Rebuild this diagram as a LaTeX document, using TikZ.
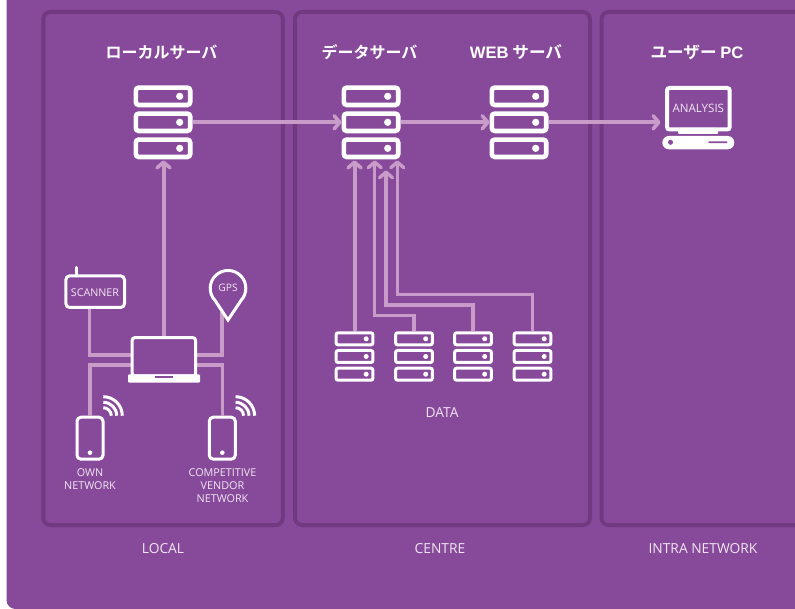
\documentclass[tikz,border=0pt]{standalone}
\usepackage{fontspec}
\setmainfont{Open Sans}
\newfontfamily\jpfont{Noto Sans CJK JP}[BoldFont={Noto Sans CJK JP Bold}]
\newfontfamily\headlat{Liberation Sans}
\usetikzlibrary{arrows.meta,calc}
\definecolor{bgpurple}{HTML}{874A9B}
\definecolor{panelline}{HTML}{713A80}
\definecolor{linkcol}{HTML}{C99BC9}
\definecolor{lbl}{HTML}{F1E6F2}
\tikzset{
  x=1pt,y=-1pt,
  panelbox/.style={draw=panelline,line width=4pt,rounded corners=7pt},
  holder/.style={inner sep=0pt,outer sep=0pt,rectangle},
  iconline/.style={draw=white,line width=3pt,rounded corners=2.5pt},
  link/.style={draw=linkcol,line width=3.5pt},
  mainlink/.style={draw=linkcol,line width=4pt,-{Straight Barb[round,length=5.5pt,width=13pt,line width=3.6pt]}},
  arrowlink/.style={link,-{Straight Barb[round,length=5.5pt,width=13pt,line width=3.4pt]}},
  head/.style={inner sep=0pt,text=white,font=\jpfont\bfseries\fontsize{16}{18}\selectfont},
  headwide/.style={inner sep=0pt,text=white,font=\jpfont\bfseries\fontsize{16.6}{18}\selectfont},
  caption/.style={inner sep=0pt,text=lbl,align=center,font=\fontsize{13.8}{15}\selectfont},
  tiny/.style={inner sep=0pt,text=lbl,align=center,font=\fontsize{10.8}{13}\selectfont},
}
\newcommand\srvbig[3]{%
  \node[holder,minimum width=59pt,minimum height=74pt] (#1) at (#2,#3) {};
  \begin{scope}[shift={(#2,#3)}]
    \foreach \dy in {-26,0,26}{
      \draw[iconline,line width=4.6pt,rounded corners=3pt] (-27.2,\dy-8.7) rectangle (27.2,\dy+8.7);
      \fill[white] (16.7,\dy) circle (3.6);
    }
  \end{scope}}
\newcommand\srvsmall[3]{%
  \node[holder,minimum width=40pt,minimum height=50pt] (#1) at (#2,#3) {};
  \begin{scope}[shift={(#2,#3)}]
    \foreach \dy in {-17.7,0,17.7}{
      \draw[iconline,line width=3pt,rounded corners=2pt] (-18.4,\dy-6) rectangle (18.4,\dy+6);
      \fill[white] (11.7,\dy) circle (2.5);
    }
  \end{scope}}
\newcommand\phoneicon[3]{%
  \node[holder,minimum width=29pt,minimum height=45pt] (#1) at (#2,#3) {};
  \begin{scope}[shift={(#2,#3)}]
    \draw[iconline,rounded corners=4pt] (-13,-21) rectangle (13,21);
    \fill[white] (0,14.5) circle (2.3);
    \foreach \r in {8,13.4,19}{
      \draw[white,line width=3pt] (13.3+\r,-22.5) arc[start angle=0,end angle=-90,radius=\r];
    }
  \end{scope}}
\begin{document}
\begin{tikzpicture}
\useasboundingbox (0,0) rectangle (795,609);
\fill[white] (0,0) rectangle (795,609);
\fill[bgpurple] (6.5,0) -- (6.5,600) arc[start angle=180,end angle=90,radius=9] -- (795,609) -- (795,0) -- cycle;
% panels
\node[panelbox,holder,minimum width=239.5pt,minimum height=513pt] (plocal) at (163,268.5) {};
\node[panelbox,holder,minimum width=295pt,minimum height=513pt] (pcentre) at (442.5,268.5) {};
\coordinate (pintraA) at (795,12);
\coordinate (pintraB) at (601.5,12);
\coordinate (pintraC) at (601.5,525);
\coordinate (pintraD) at (795,525);
\draw[panelbox] (pintraA) -- (pintraB) -- (pintraC) -- (pintraD);
% headers
\node[head] (h1) at (161.5,52) {ローカルサーバ};
\node[head] (h2) at (369.5,52) {データサーバ};
\node[headwide] (h3) at (516,52) {{\headlat WEB} サーバ};
\node[headwide] (h4) at (697,52) {ユーザー {\headlat PC}};
% servers
\srvbig{ls}{163}{122.3}
\srvbig{ds}{371}{122.3}
\srvbig{ws}{519}{122.3}
\srvsmall{da}{354.5}{356.5}
\srvsmall{db}{414}{356.5}
\srvsmall{dc}{473}{356.5}
\srvsmall{dd}{532.5}{356.5}
% PC
\node[holder,minimum width=72pt,minimum height=64pt] (pc) at (698.3,117.5) {};
\coordinate (pcin) at (660.5,122.3);
\draw[iconline,line width=4pt] (667,88) rectangle (729.7,129.5);
\fill[white,rounded corners=1pt] (678,128) rectangle (718,134);
\fill[white,rounded corners=6.6pt] (662.3,136) rectangle (734.3,149.3);
\fill[bgpurple] (670.5,142.3) circle (2.5);
\fill[bgpurple,rounded corners=.7pt] (708.3,141.4) rectangle (727.3,143.2);
\node[inner sep=0pt,text=lbl,font=\fontsize{11.6}{12}\selectfont] (analysis) at (698.3,108.5) {ANALYSIS};
% laptop, scanner, gps, phones
\node[holder,minimum width=72pt,minimum height=47pt] (lap) at (164,359.5) {};
\node[holder,minimum width=62pt,minimum height=35pt] (scan) at (95,292) {};
\node[holder,minimum width=40pt,minimum height=53pt] (gps) at (228,295.5) {};
\phoneicon{p1}{90}{438.2}
\phoneicon{p2}{222.3}{438.2}
\coordinate (scanbot) at (89.3,309);
\coordinate (gpsbot) at (222,312);
\coordinate (lapA) at (132,354.8);
\coordinate (lapB) at (196,354.8);
\coordinate (lapC) at (132,365);
\coordinate (lapD) at (196,365);
\coordinate (lstip) at (163.5,160.5);
\coordinate (dstipa) at (354.5,160.5);
\coordinate (dstipb) at (374.7,160.5);
\coordinate (dstipc) at (386,170.5);
\coordinate (dstipd) at (397.3,160.5);
% connectors
\draw[link] (scanbot) |- (lapA);
\draw[link] (gpsbot) |- (lapB);
\draw[link] (lapC) -| (p1.north);
\draw[link] (lapD) -| (p2.north);
\draw[mainlink] (lap.north -| lstip) -- (lstip);
\draw[mainlink] (ls.east) -- (ds.west);
\draw[mainlink] (ds.east) -- (ws.west);
\draw[mainlink] (ws.east) -- (pcin);
\draw[mainlink] (da.north) -- (dstipa);
\draw[arrowlink] (db.north) -- ++(0,-16) -| (dstipb);
\draw[arrowlink] (dc.north) -- ++(0,-26.5) -| (dstipc);
\draw[arrowlink] (dd.north) -- ++(0,-37) -| (dstipd);
% scanner icon
\draw[white,line width=3pt,line cap=round] (76.7,267.5) -- (76.7,276);
\draw[iconline,rounded corners=4pt] (65.8,275.8) rectangle (124.5,307.5);
\node[inner sep=0pt,text=lbl,font=\fontsize{10.7}{12}\selectfont] (scantxt) at (95,292.5) {SCANNER};
% gps icon
\draw[white,line width=3pt,line join=miter] (228,320) -- (215,300.4) arc[start angle=137,end angle=403,radius=17.8] -- cycle;
\node[inner sep=0pt,text=lbl,font=\fontsize{10.3}{12}\selectfont] (gpstxt) at (228,288) {GPS};
% laptop icon
\draw[iconline,line width=3pt,fill=bgpurple] (132.2,337.7) rectangle (195.5,376);
\fill[white,rounded corners=1pt] (128,374.3) rectangle (200,382.7);
\fill[bgpurple] (154.7,376) rectangle (173,378);
% labels
\node[tiny] (t1) at (90,479.5) {OWN\\NETWORK};
\node[tiny] (t2) at (222.5,486) {COMPETITIVE\\VENDOR\\NETWORK};
\node[caption] (cdata) at (442,413) {DATA};
\node[caption] (c1) at (163,549) {LOCAL};
\node[caption] (c2) at (440,549) {CENTRE};
\node[caption] (c3) at (703,549) {INTRA NETWORK};
\end{tikzpicture}
\end{document}
